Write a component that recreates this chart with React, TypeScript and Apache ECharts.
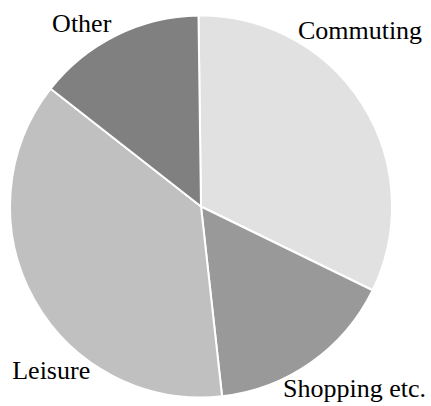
import React, { useEffect, useRef } from "react";
import * as echarts from "echarts";

const categories = ["Commuting", "Shopping etc.", "Leisure", "Other"];
const values = [32.4, 16.0, 37.3, 14.2];
const colors = ["#e1e1e1", "#999999", "#c0c0c0", "#808080"];
// label anchor positions (center x, middle y) in pixels
const labelPos: [number, number][] = [
  [360, 30.5],
  [354.5, 388.7],
  [51.2, 370.2],
  [81.7, 23.5],
];

export default function App() {
  const ref = useRef<HTMLDivElement>(null);
  useEffect(() => {
    document.body.style.margin = "0";
    const chart = echarts.init(ref.current!, undefined, { renderer: "svg" });
    chart.setOption({
      animation: false,
      backgroundColor: "#ffffff",
      series: [
        {
          type: "pie",
          center: [201, 206.5],
          radius: [0, 191],
          startAngle: 90.75,
          clockwise: true,
          avoidLabelOverlap: false,
          itemStyle: { borderColor: "#ffffff", borderWidth: 2 },
          label: {
            show: true,
            position: "outside",
            formatter: "{b}",
            fontFamily: "'Liberation Serif', 'Times New Roman', serif",
            fontSize: 26,
            color: "#000000",
          },
          labelLine: { show: false },
          labelLayout: (params: any) => {
            const p = labelPos[params.dataIndex];
            return { x: p[0], y: p[1], align: "center", verticalAlign: "middle" };
          },
          emphasis: { disabled: true },
          data: categories.map((c, i) => ({
            name: c,
            value: values[i],
            itemStyle: { color: colors[i] },
          })),
        },
      ],
    });
    return () => chart.dispose();
  }, []);
  return <div ref={ref} style={{ width: 431, height: 406 }} />;
}
